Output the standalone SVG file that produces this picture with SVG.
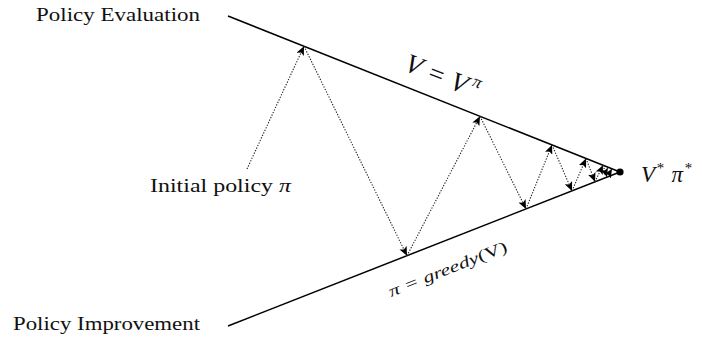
<svg xmlns="http://www.w3.org/2000/svg" width="702" height="342" viewBox="0 0 702 342">
<style>
.lbl{font-family:"Liberation Serif","Times New Roman",serif;font-size:19px;fill:#111}
.math{font-family:"Liberation Serif","Times New Roman",serif;font-style:italic;fill:#111}
.main{stroke:#000;stroke-width:1.5;fill:none}
.dot{stroke:#222;stroke-width:1.1;stroke-dasharray:1.3 1.5;fill:none;marker-end:url(#ah)}
</style>
<defs>
<marker id="ah" markerUnits="userSpaceOnUse" markerWidth="10" markerHeight="8" refX="9" refY="4" orient="auto">
<path d="M0,0 L9,4 L0,8 L2,4 Z" fill="#000"/>
</marker>
</defs>
<rect width="702" height="342" fill="#fff"/>
<g id="axes">
<line class="main" x1="228" y1="16" x2="620" y2="172"/>
<line class="main" x1="228" y1="326" x2="620" y2="172"/>
</g>
<g id="connectors">
<line class="dot" x1="247" y1="169" x2="304" y2="46.2"/>
<line class="dot" x1="304" y1="46.2" x2="407" y2="255.7"/>
<line class="dot" x1="407" y1="255.7" x2="480" y2="116.3"/>
<line class="dot" x1="480" y1="116.3" x2="526" y2="208.9"/>
<line class="dot" x1="526" y1="208.9" x2="552" y2="144.9"/>
<line class="dot" x1="552" y1="144.9" x2="572" y2="190.9"/>
<line class="dot" x1="572" y1="190.9" x2="586" y2="158.5"/>
<line class="dot" x1="586" y1="158.5" x2="595" y2="181.8"/>
<line class="dot" x1="595" y1="181.8" x2="603" y2="165.2"/>
<line class="dot" x1="603" y1="165.2" x2="607" y2="177.1"/>
<line class="dot" x1="607" y1="177.1" x2="612" y2="168.8"/>
</g>
<g id="optimum">
<circle cx="620" cy="172" r="3.6" fill="#000"/>
<text class="math" x="641" y="182" font-size="23">V<tspan font-size="15" dy="-9" dx="1">*</tspan><tspan dy="9" dx="8">π</tspan><tspan font-size="15" dy="-9" dx="1">*</tspan></text>
</g>
<g id="policy-evaluation">
<text class="lbl" x="36" y="21" textLength="164" lengthAdjust="spacingAndGlyphs">Policy Evaluation</text>
</g>
<g id="policy-improvement">
<text class="lbl" x="13" y="330" textLength="187" lengthAdjust="spacingAndGlyphs">Policy Improvement</text>
</g>
<g id="initial-policy">
<text class="lbl" x="150" y="192" textLength="141" lengthAdjust="spacingAndGlyphs">Initial policy <tspan font-style="italic">π</tspan></text>
</g>
<g id="v-label">
<text class="math" font-size="27" transform="translate(403,70) rotate(21.7)">V<tspan dx="7">=</tspan><tspan dx="7">V</tspan><tspan font-size="17" dy="-11" dx="4">π</tspan></text>
</g>
<g id="greedy-label">
<text class="math" font-size="16" transform="translate(391,297) rotate(-21.5)" textLength="126" lengthAdjust="spacingAndGlyphs">π = greedy<tspan font-style="normal">(V)</tspan></text>
</g>
</svg>
